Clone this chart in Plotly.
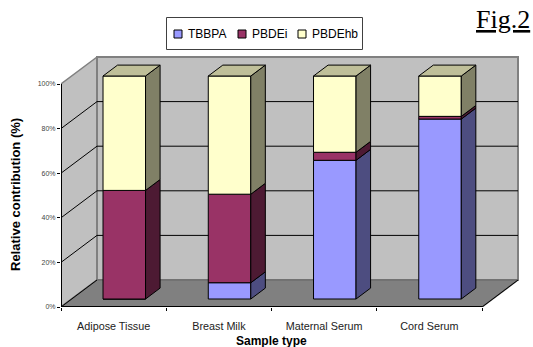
import plotly.graph_objects as go

categories = ["Adipose Tissue", "Breast Milk", "Maternal Serum", "Cord Serum"]
tbbpa = [0, 7.3, 62.2, 80.7]
pbdei = [48.7, 39.7, 3.6, 1.2]
pbdehb = [51.3, 53.0, 34.2, 18.1]
series_names = ["TBBPA", "PBDEi", "PBDEhb"]
y_ticks = [0, 20, 40, 60, 80, 100]

front_colors = ["#9999FF", "#993366", "#FFFFCC"]
side_colors = ["#4D4D80", "#4D1A33", "#808066"]
top_colors = ["#7373BF", "#732647", "#BFBF99"]

W, H = 533, 347
L, R, T, B = 61, 482, 84, 307    # front plane of the chart box, in pixels
DEPTH_X, DEPTH_Y = 36, 27        # wall depth, in pixels
DX = DEPTH_X / ((R - L) / 4)     # wall depth in category units
DY = DEPTH_Y / ((B - T) / 100)   # wall depth in percent units
D0, D1 = 0.296, 0.70             # bar depth span
BW = 0.404
XMIN, XMAX = -0.5, 3.5


def px(u, d=0.0):
    return u + d * DX


def py(v, d=0.0):
    return v + d * DY


def poly(points):
    return [px(u, d) for u, v, d in points] + [None], [py(v, d) for u, v, d in points] + [None]


fig = go.Figure()


def add_poly(pts, fill, line, width=1):
    xs, ys = poly(pts + pts[:1])
    fig.add_trace(go.Scatter(x=xs, y=ys, mode="lines", fill="toself", fillcolor=fill,
                             line=dict(color=line, width=width),
                             hoverinfo="skip", showlegend=False))


def add_line(pts, color="black", width=1):
    xs, ys = poly(pts)
    fig.add_trace(go.Scatter(x=xs, y=ys, mode="lines", line=dict(color=color, width=width),
                             hoverinfo="skip", showlegend=False))


# walls and floor
add_poly([(XMIN, 0, 0), (XMIN, 0, 1), (XMIN, 100, 1), (XMIN, 100, 0)], "#C0C0C0", "#808080", 1.5)
add_poly([(XMIN, 0, 1), (XMAX, 0, 1), (XMAX, 100, 1), (XMIN, 100, 1)], "#C0C0C0", "#808080", 2)
add_poly([(XMIN, 0, 0), (XMAX, 0, 0), (XMAX, 0, 1), (XMIN, 0, 1)], "#808080", "#6E6E6E", 1.5)

# black edges of the floor and the front axis lines
add_line([(XMIN, 0, 0), (XMIN, 0, 1)])
add_line([(XMAX, 0, 0), (XMAX, 0, 1)])
add_line([(XMIN, 100, 0), (XMIN, 0, 0), (XMAX, 0, 0)], width=2)

# gridlines on the left and back walls
gx, gy = [], []
for v in y_ticks[1:-1]:
    xs, ys = poly([(XMIN, v, 0), (XMIN, v, 1), (XMAX, v, 1)])
    gx += xs
    gy += ys
fig.add_trace(go.Scatter(x=gx, y=gy, mode="lines", line=dict(color="black", width=1),
                         hoverinfo="skip", showlegend=False))

# bars (overlay axes so they sit above the walls)
offset = D0 * DY
bases = [0.0] * 4
stack = [tbbpa, pbdei, pbdehb]
for name, vals, fc, sc in zip(series_names, stack, front_colors, side_colors):
    fig.add_trace(go.Bar(x=[px(i, D0) for i in range(4)], y=vals,
                         base=[b + offset for b in bases], width=BW, name=name,
                         marker=dict(color=fc, line=dict(color="black", width=1)),
                         showlegend=False, xaxis="x2", yaxis="y2"))
    sx, sy = [], []
    for i, (b, v) in enumerate(zip(bases, vals)):
        if v <= 0:
            continue
        r = i + BW / 2
        xs, ys = poly([(r, b, D0), (r, b, D1), (r, b + v, D1), (r, b + v, D0), (r, b, D0)])
        sx += xs
        sy += ys
    fig.add_trace(go.Scatter(x=sx, y=sy, mode="lines", fill="toself", fillcolor=sc,
                             line=dict(color="black", width=1),
                             hoverinfo="skip", showlegend=False, xaxis="x2", yaxis="y2"))
    bases = [b + v for b, v in zip(bases, vals)]

# bar tops
tx, ty = [], []
for i, b in enumerate(bases):
    l, r = i - BW / 2, i + BW / 2
    xs, ys = poly([(l, b, D0), (r, b, D0), (r, b, D1), (l, b, D1), (l, b, D0)])
    tx += xs
    ty += ys
fig.add_trace(go.Scatter(x=tx, y=ty, mode="lines", fill="toself", fillcolor=top_colors[2],
                         line=dict(color="black", width=1),
                         hoverinfo="skip", showlegend=False, xaxis="x2", yaxis="y2"))

PL, PR, PT, PB = L, R + DEPTH_X + 1, T - DEPTH_Y - 1, B


# legend box, built in pixel positions
def xp(p):
    return (p - PL) / (PR - PL)


def yp(p):
    return (PB - p) / (PB - PT)


shapes = [dict(type="rect", xref="paper", yref="paper", x0=xp(166.5), x1=xp(362.5), y0=yp(49.5), y1=yp(17.5),
               line=dict(color="#404040", width=1), fillcolor="white")]
annotations = []
swatch_x = [174, 238, 298]
text_x = [185.5, 249.5, 309.5]
for name, c, sx_, tx_ in zip(series_names, front_colors, swatch_x, text_x):
    shapes.append(dict(type="rect", xref="paper", yref="paper", x0=xp(sx_), x1=xp(sx_ + 8),
                       y0=yp(38), y1=yp(30), line=dict(color="black", width=1), fillcolor=c))
    annotations.append(dict(text=name, xref="paper", yref="paper", x=xp(tx_), y=yp(34), showarrow=False,
                            xanchor="left", yanchor="middle", font=dict(size=12, color="black")))
annotations.append(dict(text="<u>Fig.2</u>", xref="paper", yref="paper", x=xp(532), y=yp(20), showarrow=False,
                        xanchor="right", yanchor="middle",
                        font=dict(family="Liberation Serif", size=26, color="black")))
annotations.append(dict(text="<b>Sample type</b>", xref="paper", yref="paper", x=xp(271), y=yp(341),
                        showarrow=False, xanchor="center", yanchor="middle", font=dict(size=12)))
annotations.append(dict(text="<b>Relative contribution (%)</b>", xref="paper", yref="paper", x=xp(15), y=yp(195),
                        showarrow=False, xanchor="center", yanchor="middle", textangle=-90, font=dict(size=13)))

x_range = [XMIN, XMAX + (PR - R) / ((R - L) / 4)]
y_range = [0, 100 + (B - PT) * 100 / (B - T) - 100]

fig.update_layout(
    width=W, height=H, autosize=False,
    margin=dict(l=PL, r=W - PR, t=PT, b=H - PB, pad=0),
    paper_bgcolor="white", plot_bgcolor="rgba(0,0,0,0)",
    font=dict(family="Liberation Sans", color="black"),
    showlegend=False, barmode="overlay",
    shapes=shapes, annotations=annotations,
    xaxis=dict(range=x_range, tickmode="array", tickvals=list(range(4)), ticktext=categories,
               ticks="", showgrid=False, zeroline=False, showline=False,
               tickfont=dict(size=10.8, color="#222222"), ticklabelstandoff=11,
               minor=dict(tickmode="array", tickvals=[-0.5, 0.5, 1.5, 2.5, 3.5], ticks="outside",
                          ticklen=3, tickcolor="black", tickwidth=1, showgrid=False)),
    yaxis=dict(range=y_range, tickmode="array", tickvals=y_ticks, ticktext=[f"{v}%" for v in y_ticks],
               ticks="outside", ticklen=3, tickcolor="black", showgrid=False, zeroline=False,
               showline=False,
               tickfont=dict(size=7, color="#444444")),
    xaxis2=dict(range=x_range, overlaying="x", visible=False, matches="x"),
    yaxis2=dict(range=y_range, overlaying="y", visible=False, matches="y"),
)

fig.write_html("out.html", config={"displayModeBar": False},
               post_script="document.body.style.margin='0';")
